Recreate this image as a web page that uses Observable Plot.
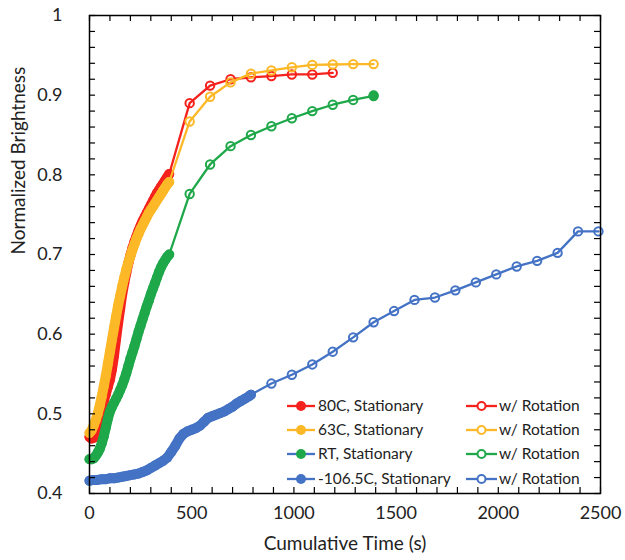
<!DOCTYPE html>
<html>
<head>
<meta charset="utf-8">
<script src="https://cdn.jsdelivr.net/npm/d3@7"></script>
<script src="https://cdn.jsdelivr.net/npm/@observablehq/plot@0.6"></script>
<style>
  body { margin: 0; background: #fff; }
  #chart { width: 625px; height: 560px; }
</style>
</head>
<body>
<div id="chart"></div>
<script>
// Axis ticks and titles
const xTicks = [0, 500, 1000, 1500, 2000, 2500];
const yTicks = [0.4, 0.5, 0.6, 0.7, 0.8, 0.9, 1];
const xTitle = "Cumulative Time (s)";
const yTitle = "Normalized Brightness";

// Stationary runs (80C, 63C, RT share the same time base, s)
const tStat = [0, 10, 20, 30, 40, 50, 60, 70, 80, 90, 100, 110, 120, 130, 140, 150, 160, 170, 180, 190,
               200, 210, 220, 230, 240, 250, 260, 270, 280, 290, 300, 310, 320, 330, 340, 350, 360, 370, 380, 390];
const stat80 = [0.471, 0.469, 0.470, 0.474, 0.482, 0.493, 0.505, 0.516, 0.525, 0.534, 0.543, 0.556, 0.573, 0.594, 0.614, 0.632, 0.650, 0.664, 0.677, 0.689,
                0.699, 0.708, 0.716, 0.723, 0.730, 0.736, 0.742, 0.747, 0.752, 0.757, 0.762, 0.767, 0.772, 0.777, 0.781, 0.785, 0.789, 0.793, 0.797, 0.801];
const stat63 = [0.476, 0.479, 0.485, 0.492, 0.500, 0.510, 0.522, 0.535, 0.548, 0.563, 0.578, 0.593, 0.608, 0.622, 0.636, 0.648, 0.660, 0.671, 0.681, 0.690,
                0.698, 0.706, 0.713, 0.720, 0.726, 0.732, 0.737, 0.742, 0.747, 0.752, 0.756, 0.760, 0.764, 0.768, 0.772, 0.776, 0.780, 0.784, 0.788, 0.791];
const statRT = [0.443, 0.443, 0.444, 0.447, 0.451, 0.456, 0.463, 0.472, 0.483, 0.494, 0.503, 0.509, 0.514, 0.519, 0.524, 0.530, 0.536, 0.543, 0.551, 0.560,
                0.569, 0.577, 0.585, 0.594, 0.603, 0.611, 0.619, 0.627, 0.635, 0.642, 0.650, 0.657, 0.664, 0.671, 0.678, 0.684, 0.689, 0.693, 0.697, 0.700];

// -106.5C stationary run
const tStatCold = [0, 20, 40, 60, 80, 100, 120, 140, 160, 180, 200, 220, 240, 260, 280, 300, 320, 340, 360, 380,
                   400, 420, 440, 460, 480, 500, 520, 540, 560, 580, 600, 620, 640, 660, 680, 700, 720, 740, 760, 780, 790];
const statCold = [0.416, 0.417, 0.417, 0.418, 0.418, 0.419, 0.419, 0.420, 0.421, 0.422, 0.423, 0.424, 0.425, 0.427, 0.429, 0.432, 0.435, 0.438, 0.441, 0.445,
                  0.452, 0.460, 0.469, 0.475, 0.478, 0.480, 0.482, 0.485, 0.490, 0.495, 0.497, 0.499, 0.501, 0.503, 0.506, 0.509, 0.513, 0.516, 0.519, 0.522, 0.524];

// Runs with rotation, continuing from the end of each stationary run
const tRot = [490, 590, 690, 790, 890, 990, 1090, 1190, 1290, 1390];
const rot80 = [0.890, 0.912, 0.920, 0.9225, 0.924, 0.926, 0.926, 0.928];
const rot63 = [0.867, 0.898, 0.916, 0.927, 0.931, 0.935, 0.938, 0.9385, 0.939, 0.939];
const rotRT = [0.776, 0.813, 0.836, 0.850, 0.861, 0.871, 0.880, 0.888, 0.894, 0.899];
const tRotCold = [890, 990, 1090, 1190, 1290, 1390, 1490, 1590, 1690, 1790, 1890, 1990, 2090, 2190, 2290, 2390, 2490];
const rotCold = [0.538, 0.549, 0.562, 0.578, 0.596, 0.615, 0.629, 0.643, 0.646, 0.655, 0.665, 0.675, 0.685, 0.692, 0.702, 0.729, 0.729];

// Final RT reading (filled marker at the end of the rotation run)
const tRTEnd = [1390];
const rtEnd = [0.900];

const RED = "#f5211d", ORANGE = "#fdb827", GREEN = "#1fa84a", BLUE = "#4472c4";
const FONT = "Lato, 'Open Sans', sans-serif";

const pts = (ts, vs) => vs.map((v, i) => ({t: ts[i], v}));

const series = [
  {label: "80C, Stationary", color: RED, line: RED, filled: true, data: pts(tStat, stat80)},
  {label: "w/ Rotation", color: RED, line: RED, filled: false, data: pts(tRot, rot80), from: pts(tStat, stat80)},
  {label: "63C, Stationary", color: ORANGE, line: ORANGE, filled: true, data: pts(tStat, stat63)},
  {label: "w/ Rotation", color: ORANGE, line: ORANGE, filled: false, data: pts(tRot, rot63), from: pts(tStat, stat63)},
  {label: "RT, Stationary", color: GREEN, line: BLUE, filled: true, data: pts(tStat, statRT)},
  {label: "w/ Rotation", color: GREEN, line: GREEN, filled: false, data: pts(tRot, rotRT), from: pts(tStat, statRT)},
  {label: "-106.5C, Stationary", color: BLUE, line: BLUE, filled: true, data: pts(tStatCold, statCold)},
  {label: "w/ Rotation", color: BLUE, line: BLUE, filled: false, data: pts(tRotCold, rotCold), from: pts(tStatCold, statCold)}
];

const W = 625, H = 560, mL = 89, mR = 25, mT = 15, mB = 67;
const innerW = W - mL - mR, innerH = H - mT - mB;
const tickLen = 6;
const xMinor = d3.range(0, 2501, 100);
const yMinor = d3.range(0, 31).map(i => 0.4 + i * 0.02);
const markerR = 5;

const marks = [];
for (const s of series) {
  if (s.filled) {
    // closely spaced stationary markers overlap into a solid band
    marks.push(Plot.line(s.data, {x: "t", y: "v", stroke: s.color, strokeWidth: markerR * 2,
      strokeLinecap: "round", strokeLinejoin: "round", curve: "linear"}));
    marks.push(Plot.dot(s.data, {x: "t", y: "v", r: markerR, fill: s.color}));
  } else {
    const lineData = [s.from[s.from.length - 1], ...s.data];
    marks.push(Plot.line(lineData, {x: "t", y: "v", stroke: s.color, strokeWidth: 2.3}));
    marks.push(Plot.dot(s.data, {x: "t", y: "v", r: 4.2, fill: "none", stroke: s.color, strokeWidth: 2}));
  }
}
marks.push(Plot.dot(pts(tRTEnd, rtEnd), {x: "t", y: "v", r: markerR, fill: GREEN}));

const chart = Plot.plot({
  width: W, height: H,
  marginLeft: mL, marginRight: mR, marginTop: mT, marginBottom: mB,
  style: {fontFamily: FONT, background: "#fff", color: "#222"},
  x: {domain: [0, 2500]},
  y: {domain: [0.4, 1]},
  marks: [
    ...marks,
    // inward ticks on all four sides
    Plot.tickX(xMinor, {x: d => d, insetTop: innerH - tickLen, stroke: "#000", strokeWidth: 1.2}),
    Plot.tickX(xMinor, {x: d => d, insetBottom: innerH - tickLen, stroke: "#000", strokeWidth: 1.2}),
    Plot.tickY(yMinor, {y: d => d, insetRight: innerW - tickLen, stroke: "#000", strokeWidth: 1.2}),
    Plot.tickY(yMinor, {y: d => d, insetLeft: innerW - tickLen, stroke: "#000", strokeWidth: 1.2}),
    Plot.frame({stroke: "#000", strokeWidth: 1.5}),
    Plot.axisX({ticks: xTicks, tickSize: 0, tickPadding: 13, fontSize: 18, label: null, tickFormat: d => String(d)}),
    Plot.axisY({ticks: yTicks, tickSize: 0, tickPadding: 27, fontSize: 18, label: null, tickFormat: d => String(d)}),
    Plot.text([xTitle], {text: d => d, frameAnchor: "bottom", dy: 56, fontSize: 19, fill: "#222"}),
    Plot.text([yTitle], {text: d => d, frameAnchor: "left", dx: -71, rotate: -90, fontSize: 19, fill: "#222"})
  ]
});
document.getElementById("chart").appendChild(chart);

// Legend: two columns (stationary / rotation), one row per temperature
const svg = d3.select(chart);
const leg = svg.append("g")
  .attr("font-family", FONT).attr("font-size", 15.5).attr("fill", "#222").attr("text-anchor", "start");
const rowsY = [406, 430, 454, 479];
const cols = [{x0: 287, x1: 315, tx: 318}, {x0: 466, x1: 497, tx: 499}];
series.forEach((s, i) => {
  const row = Math.floor(i / 2), col = cols[i % 2];
  const y = rowsY[row];
  const g = leg.append("g");
  g.append("line").attr("x1", col.x0).attr("x2", col.x1).attr("y1", y).attr("y2", y)
    .attr("stroke", s.line).attr("stroke-width", 2.3);
  const cx = (col.x0 + col.x1) / 2;
  if (s.filled) g.append("circle").attr("cx", cx).attr("cy", y).attr("r", markerR).attr("fill", s.color);
  else g.append("circle").attr("cx", cx).attr("cy", y).attr("r", 4).attr("fill", "#fff").attr("stroke", s.color).attr("stroke-width", 2);
  g.append("text").attr("x", col.tx).attr("y", y).attr("dy", "0.35em").attr("text-anchor", "start").text(s.label);
});
</script>
</body>
</html>
